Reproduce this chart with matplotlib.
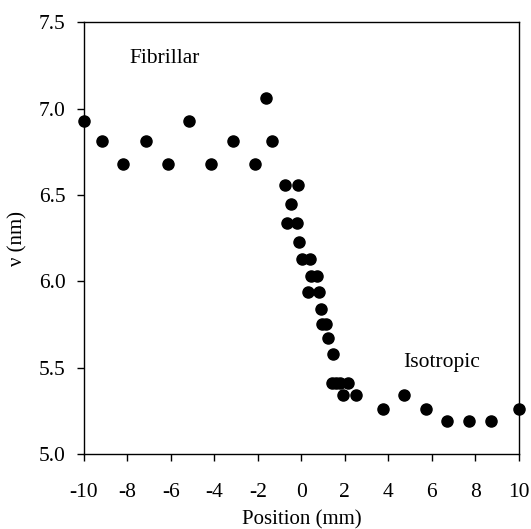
import matplotlib.pyplot as plt

plt.rcParams['font.family'] = ['Liberation Serif', 'DejaVu Serif']
plt.rcParams['axes.unicode_minus'] = False

# Position (mm) and nu (nm)
position = [-10.0, -9.17, -8.2, -7.15, -6.14, -5.17, -4.16, -3.15, -2.14, -1.63, -1.34,
            -0.76, -0.15, -0.48, -0.64, -0.22, -0.10, 0.01, 0.42, 0.45, 0.72,
            0.31, 0.80, 0.90, 0.95, 1.12, 1.23, 1.46,
            1.40, 1.60, 1.80, 2.15, 1.92, 2.53,
            3.75, 4.73, 5.71, 6.72, 7.70, 8.71, 10.0]
nu = [6.93, 6.81, 6.68, 6.81, 6.68, 6.93, 6.68, 6.81, 6.68, 7.06, 6.81,
      6.56, 6.56, 6.45, 6.34, 6.34, 6.23, 6.13, 6.13, 6.03, 6.03,
      5.94, 5.94, 5.84, 5.75, 5.75, 5.67, 5.58,
      5.41, 5.41, 5.41, 5.41, 5.34, 5.34,
      5.26, 5.34, 5.26, 5.19, 5.19, 5.19, 5.26]

fig = plt.figure(figsize=(5.31, 5.29), dpi=100)
ax = fig.add_axes([0.158, 0.142, 0.819, 0.816])

ax.plot(position, nu, 'o', color='black', markersize=8, clip_on=False)

ax.set_xlim(-10, 10)
ax.set_ylim(5.0, 7.5)
ax.set_xticks(range(-10, 11, 2))
ax.set_yticks([5.0, 5.5, 6.0, 6.5, 7.0, 7.5])
ax.set_yticklabels(['5.0', '5.5', '6.0', '6.5', '7.0', '7.5'])
ax.tick_params(direction='out', length=5, width=1, labelsize=15.5)
ax.tick_params(axis='x', pad=16)
ax.tick_params(axis='y', pad=8)

ax.set_xlabel('Position (mm)', fontsize=15, labelpad=6)
ax.set_ylabel('ν (nm)', fontsize=15, labelpad=8)

ax.text(-7.9, 7.29, 'Fibrillar', fontsize=15.5, va='center', ha='left')
ax.text(4.7, 5.53, 'Isotropic', fontsize=15.5, va='center', ha='left')

for s in ax.spines.values():
    s.set_linewidth(1)

fig.savefig('out.png', dpi=100)
